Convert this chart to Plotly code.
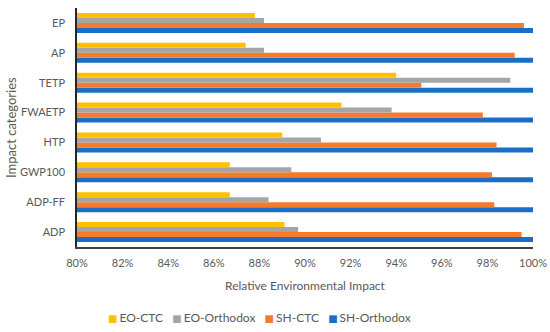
import plotly.graph_objects as go

categories = ["ADP", "ADP-FF", "GWP100", "HTP", "FWAETP", "TETP", "AP", "EP"]
eo_ctc = [0.891, 0.867, 0.867, 0.890, 0.916, 0.940, 0.874, 0.878]
eo_orthodox = [0.897, 0.884, 0.894, 0.907, 0.938, 0.990, 0.882, 0.882]
sh_ctc = [0.995, 0.983, 0.982, 0.984, 0.978, 0.951, 0.992, 0.996]
sh_orthodox = [1.0, 1.0, 1.0, 1.0, 1.0, 1.0, 1.0, 1.0]
x_ticks = [0.80, 0.82, 0.84, 0.86, 0.88, 0.90, 0.92, 0.94, 0.96, 0.98, 1.00]

font_family = "Lato, Open Sans, sans-serif"
txt = "#595959"

series = [
    ("SH-Orthodox", sh_orthodox, "#1A6EC4"),
    ("SH-CTC", sh_ctc, "#F47A2C"),
    ("EO-Orthodox", eo_orthodox, "#A5A5A5"),
    ("EO-CTC", eo_ctc, "#FFC000"),
]

fig = go.Figure()
for name, vals, col in series:
    fig.add_trace(go.Bar(y=categories, x=vals, name=name, orientation="h",
                         marker=dict(color=col, line=dict(width=0))))

# compact legend (Excel-like) as a single text line
gap = "\u00a0" * 3
legend_text = gap.join(
    f"<span style='color:{col};font-family:DejaVu Sans;font-size:10px'>\u25a0\u2009</span>{name}"
    for name, _, col in reversed(series)
)

fig.update_layout(
    width=550, height=332,
    margin=dict(l=77, r=17, t=8, b=85),
    barmode="group", bargap=0.33, bargroupgap=0,
    plot_bgcolor="white", paper_bgcolor="white",
    font=dict(family=font_family, size=12, color=txt),
    showlegend=False,
    xaxis=dict(range=[0.8, 1.0], tickvals=x_ticks, tickformat=".0%", automargin=False,
               showgrid=False, zeroline=False, showline=True, linecolor="#404040",
               linewidth=1.5, ticks="", ticklabelstandoff=5,
               tickfont=dict(size=11, color=txt)),
    yaxis=dict(showgrid=False, zeroline=False, showline=True, linecolor="#262626",
               linewidth=1.5, ticks="", ticklabelstandoff=8, automargin=False,
               tickfont=dict(size=11, color=txt)),
    annotations=[
        dict(text="Relative Environmental Impact", xref="paper", yref="paper",
             x=0.5, y=-0.159, xanchor="center", yanchor="middle", showarrow=False,
             font=dict(size=12, color=txt)),
        dict(text="Impact categories", xref="paper", yref="paper",
             x=-0.146, y=0.5, xanchor="center", yanchor="middle", showarrow=False,
             textangle=-90, font=dict(size=13, color=txt)),
        dict(text=legend_text, xref="paper", yref="paper",
             x=0.401, y=-0.293, xanchor="center", yanchor="middle", showarrow=False,
             font=dict(size=12, color=txt)),
    ],
)

# remove the default 8px page margin so the 550x332 figure fills the window
fig.write_html("out.html", config={"displayModeBar": False},
               post_script="document.body.style.margin='0';")
